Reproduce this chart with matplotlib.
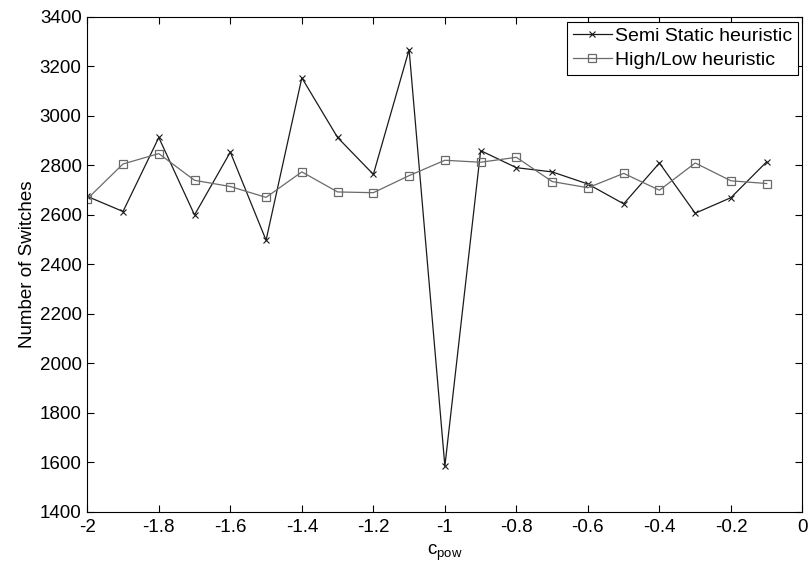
import matplotlib
matplotlib.use("Agg")
import matplotlib.pyplot as plt

plt.rcParams['font.family'] = ['Liberation Sans', 'DejaVu Sans']
plt.rcParams['mathtext.fontset'] = 'custom'
plt.rcParams['mathtext.rm'] = 'Liberation Sans'

c_pow = [-2.0, -1.9, -1.8, -1.7, -1.6, -1.5, -1.4, -1.3, -1.2, -1.1,
         -1.0, -0.9, -0.8, -0.7, -0.6, -0.5, -0.4, -0.3, -0.2, -0.1]
semi_static = [2675, 2614, 2913, 2600, 2854, 2498, 3154, 2913, 2764, 3268,
               1585, 2860, 2791, 2774, 2725, 2645, 2810, 2607, 2670, 2815]
high_low = [2665, 2806, 2848, 2740, 2715, 2671, 2774, 2693, 2690, 2759,
            2821, 2813, 2833, 2735, 2710, 2768, 2700, 2810, 2738, 2727]

xticks = [-2, -1.8, -1.6, -1.4, -1.2, -1, -0.8, -0.6, -0.4, -0.2, 0]
xticklabels = ['-2', '-1.8', '-1.6', '-1.4', '-1.2', '-1', '-0.8', '-0.6', '-0.4', '-0.2', '0']
yticks = list(range(1400, 3401, 200))

fig = plt.figure(figsize=(8.11, 5.69), dpi=100)
ax = fig.add_axes([0.1076, 0.1002, 0.8819, 0.870])

ax.plot(c_pow, semi_static, color='#1a1a1a', lw=0.9, marker='x', ms=4,
        mew=0.8, label='Semi Static heuristic')
ax.plot(c_pow, high_low, color='#6a6a6a', lw=0.9, marker='s', ms=6,
        mfc='none', mec='#6a6a6a', mew=0.9, label='High/Low heuristic')

ax.set_xlim(-2, 0)
ax.set_ylim(1400, 3400)
ax.set_xticks(xticks)
ax.set_xticklabels(xticklabels)
ax.set_yticks(yticks)
ax.tick_params(direction='in', top=True, right=True, length=5, width=0.8,
               labelsize=13.5)
ax.tick_params(axis='x', pad=5)
ax.tick_params(axis='y', pad=4)
for s in ax.spines.values():
    s.set_linewidth(0.8)

ax.set_xlabel(r'c$_{\mathrm{pow}}$', fontsize=13.5, labelpad=5)
ax.set_ylabel('Number of Switches', fontsize=13.5, labelpad=3)

leg = ax.legend(loc='upper right', fontsize=14, numpoints=1, fancybox=False,
                framealpha=1, edgecolor='black', borderpad=0.3,
                handlelength=2.0, handletextpad=0.15, labelspacing=0.3,
                borderaxespad=0.25)
leg.get_frame().set_linewidth(0.8)

fig.savefig('out.png', dpi=100)
